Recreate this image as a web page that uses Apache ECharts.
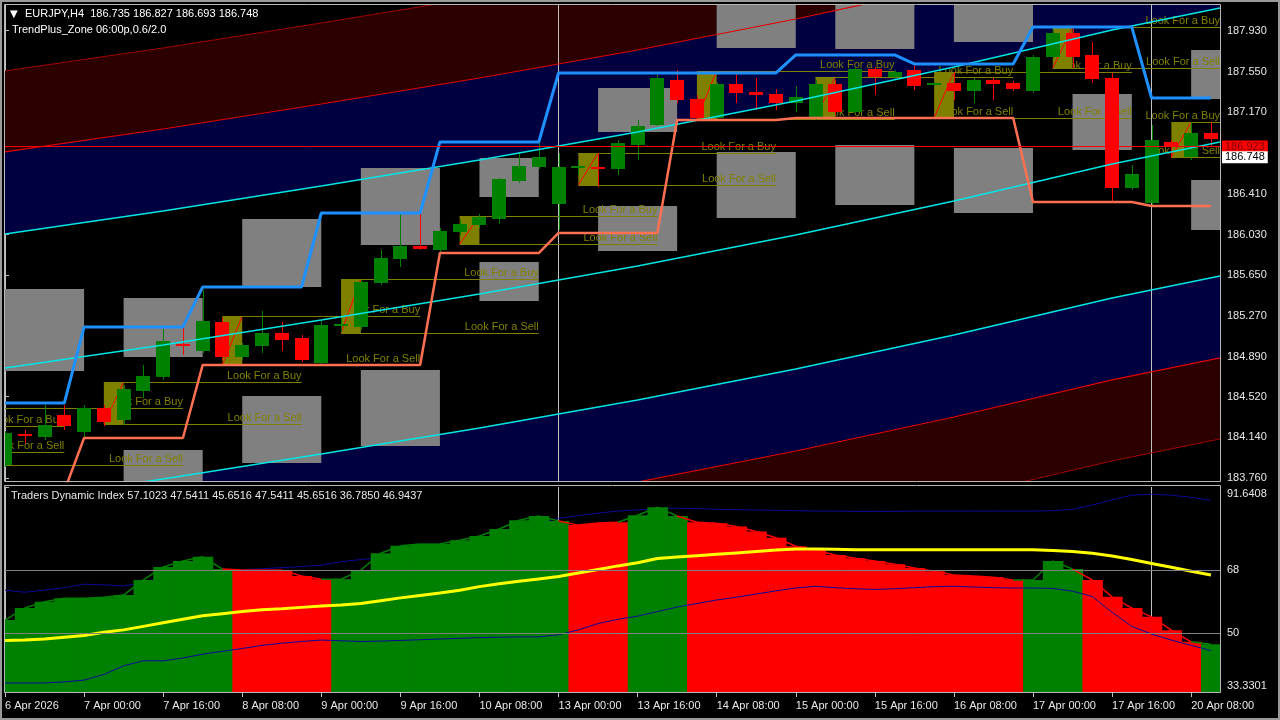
<!DOCTYPE html>
<html>
<head>
<meta charset="utf-8">
<title>EURJPY H4</title>
<script src="https://cdn.jsdelivr.net/npm/echarts@6.0.0/dist/echarts.min.js"></script>
<style>
html,body{margin:0;padding:0;background:#000;overflow:hidden}
#chart{width:1280px;height:720px}
</style>
</head>
<body>
<div id="chart"></div>
<script>
// ---------------- data ----------------
const timeLabels = ['6 Apr 2026','7 Apr 00:00','7 Apr 16:00','8 Apr 08:00','9 Apr 00:00','9 Apr 16:00','10 Apr 08:00','13 Apr 00:00','13 Apr 16:00','14 Apr 08:00','15 Apr 00:00','15 Apr 16:00','16 Apr 08:00','17 Apr 00:00','17 Apr 16:00','20 Apr 08:00'];
const timeLabelBars = [0,4,8,12,16,20,24,28,32,36,40,44,48,52,56,60];
const separatorBars = [28,58];
const priceTicks = [187.930,187.550,187.170,186.410,186.030,185.650,185.270,184.890,184.520,184.140,183.760];
const tdiTicks = [91.6408,68,50,33.3301];
const tdiTickLabels = ['91.6408','68','50','33.3301'];
const tdiLevels = [68,50];

const candleOpen  = [183.882,184.167,184.143,184.349,184.190,184.414,184.302,184.572,184.703,185.005,184.945,185.215,184.889,184.991,185.113,185.066,184.833,185.178,185.169,185.579,185.802,185.924,185.886,186.054,186.119,186.175,186.529,186.660,186.315,186.655,186.655,186.641,186.865,187.051,187.471,187.294,187.116,187.433,187.359,187.340,187.256,187.116,187.433,187.172,187.573,187.499,187.564,187.429,187.443,187.368,187.471,187.443,187.368,187.685,187.909,187.704,187.489,186.464,186.324,186.893,186.753,186.977];
const candleClose = [184.181,184.157,184.255,184.246,184.414,184.283,184.591,184.712,185.038,184.996,185.225,184.889,185.001,185.113,185.047,184.861,185.187,185.197,185.588,185.812,185.924,185.896,186.063,186.129,186.194,186.548,186.669,186.753,186.660,186.664,186.646,186.883,187.042,187.489,187.284,187.116,187.433,187.349,187.331,187.256,187.312,187.433,187.172,187.573,187.499,187.545,187.415,187.438,187.368,187.471,187.433,187.387,187.685,187.909,187.685,187.480,186.464,186.595,186.911,186.846,186.977,186.921];
const candleLow   = [183.864,184.087,184.115,184.209,184.143,184.246,184.255,184.507,184.675,184.908,184.926,184.861,184.861,184.926,184.945,184.842,184.815,185.122,185.141,185.560,185.728,185.886,185.868,186.026,186.091,186.129,186.511,186.641,186.073,186.585,186.473,186.585,186.725,187.042,187.256,187.098,187.098,187.256,187.191,187.191,187.172,187.098,187.144,187.163,187.331,187.471,187.377,187.415,187.284,187.256,187.284,187.368,187.349,187.676,187.582,187.443,186.324,186.445,186.306,186.744,186.725,186.846];
const candleHigh  = [184.199,184.209,184.442,184.442,184.442,184.442,184.628,184.815,185.150,185.159,185.513,185.253,185.019,185.318,185.215,185.094,185.234,185.253,185.607,185.886,186.222,186.222,186.091,186.166,186.222,186.557,186.790,186.883,186.790,186.725,186.790,186.911,187.098,187.517,187.564,187.331,187.452,187.536,187.489,187.387,187.415,187.471,187.471,187.592,187.592,187.564,187.610,187.452,187.545,187.489,187.489,187.461,187.704,187.937,187.946,187.825,187.536,186.678,187.051,186.911,187.079,187.079];

const stepUpper = [184.460,184.460,184.460,184.460,185.169,185.169,185.169,185.169,185.169,185.169,185.541,185.541,185.541,185.541,185.541,185.541,186.231,186.231,186.231,186.231,186.231,186.231,186.893,186.893,186.893,186.893,186.893,186.893,187.536,187.536,187.536,187.536,187.536,187.536,187.536,187.536,187.536,187.536,187.536,187.536,187.704,187.704,187.704,187.704,187.704,187.704,187.620,187.620,187.620,187.620,187.620,187.620,187.964,187.964,187.964,187.964,187.964,187.964,187.303,187.303,187.303,187.303];
const stepLower = [183.640,183.640,183.640,183.640,184.134,184.134,184.134,184.134,184.134,184.134,184.815,184.815,184.815,184.815,184.815,184.815,184.815,184.815,184.815,184.815,184.815,184.815,185.858,185.858,185.858,185.858,185.858,185.858,186.045,186.045,186.045,186.045,186.045,186.045,187.098,187.098,187.098,187.098,187.098,187.098,187.116,187.116,187.116,187.116,187.116,187.116,187.116,187.116,187.116,187.116,187.116,187.116,186.334,186.334,186.334,186.334,186.334,186.334,186.296,186.296,186.296,186.296];

const chanBars    = [0,8,16,24,32,40,48,56,61.46];
const chanOuterUp = [187.555,187.769,188.002,188.244,188.505,188.794,189.111,189.456,189.661];
const chanInnerUp = [186.800,187.014,187.247,187.489,187.750,188.039,188.356,188.701,188.906];
const chanCyanUp  = [186.035,186.250,186.483,186.725,186.986,187.275,187.592,187.937,188.142];
const chanMid     = [184.787,185.001,185.234,185.476,185.737,186.026,186.343,186.688,186.893];
const chanCyanDn  = [183.538,183.752,183.985,184.227,184.488,184.777,185.094,185.439,185.644];
const chanInnerDn = [182.774,182.988,183.221,183.463,183.724,184.013,184.330,184.675,184.880];
const chanOuterDn = [182.019,182.233,182.466,182.708,182.969,183.258,183.575,183.920,184.125];

// gray zone boxes: start bar, end bar, top price, bottom price
const zoneBoxStart = [0,6,6,12,12,18,18,24,24,30,30,36,36,42,42,48,48,54,60,60];
const zoneBoxEnd   = [4,10,10,16,16,22,22,27,27,34,34,40,40,46,46,52,52,57,64,64];
const zoneBoxTop   = [185.523,185.439,184.022,186.175,184.526,186.650,184.768,186.744,185.774,187.396,186.296,188.400,186.800,188.400,186.865,188.400,186.837,187.340,187.750,186.539];
const zoneBoxBot   = [184.759,184.889,183.556,185.541,183.901,185.933,184.060,186.380,185.411,186.986,185.877,187.769,186.185,187.760,186.306,187.825,186.231,186.818,187.294,186.073];

// signal zones: start bar, buy level, sell level
const zoneStart = [-7,-1,5,11,17,23,29,35,41,47,53,59];
const zoneBuy   = [184.246,184.414,184.656,185.271,185.616,186.203,186.790,187.555,187.499,187.545,187.964,187.079];
const zoneSell  = [184.004,183.882,184.265,184.815,185.113,185.942,186.492,187.107,187.116,187.116,187.582,186.753];

const currentLineValue = 186.850;
const currentLineText = '186.923';
const bidValue = 186.753;
const bidText = '186.748';

// Traders Dynamic Index
const tdiRsi = [53.8,57.2,59.0,60.0,60.0,60.3,60.9,65.2,68.9,70.6,71.8,68.3,68.0,68.0,68.0,66.3,65.4,65.4,68.0,72.8,74.9,75.4,75.4,76.5,77.7,79.7,82.2,83.4,82.0,80.8,81.4,81.6,83.6,85.9,83.4,81.6,81.3,80.4,79.0,77.2,74.8,73.7,72.3,71.4,70.6,69.7,68.6,67.7,66.6,66.3,66.0,65.2,65.2,70.6,68.3,65.2,60.4,57.2,54.7,50.9,47.6,46.9];
const tdiColorKeys = ('GGGGGGGGGGGG' + 'RRRRR' + 'GGGGGGGGGGGG' + 'RRR' + 'GGG' + 'RRRRRRRRRRRRRRRRR' + 'GGG' + 'RRRRRR' + 'G').split('');
const tdiSignal = [48.0,48.1,48.4,48.9,49.4,50.3,51.0,52.0,53.0,54.0,55.0,55.6,56.2,56.7,57.0,57.4,57.8,58.1,58.5,59.3,60.1,60.8,61.5,62.3,63.3,64.1,64.8,65.5,66.2,67.2,68.2,69.2,70.1,71.3,71.7,72.1,72.5,72.9,73.3,73.7,74.0,74.0,73.9,73.8,73.8,73.8,73.8,73.8,73.8,73.8,73.8,73.8,73.8,73.6,73.3,72.8,72.0,71.0,69.9,68.8,67.7,66.6];
const tdiUpper = [62.3,61.7,62.3,63.0,64.0,63.8,63.5,64.5,66.0,67.0,67.5,68.0,68.1,68.4,68.7,69.0,69.4,70.4,71.0,71.5,72.5,73.5,74.5,75.5,76.5,78.0,79.5,81.5,82.7,83.5,84.2,84.8,85.1,85.5,85.6,85.5,85.3,85.2,85.1,85.0,84.9,84.8,84.8,84.7,84.7,84.7,84.8,84.8,84.8,84.8,84.8,84.8,84.8,84.9,85.3,86.5,88.0,89.3,89.6,89.3,88.7,87.8];
const tdiLower = [35.9,35.9,35.9,36.2,36.7,38.3,40.8,42.2,42.2,43.0,44.1,44.9,45.7,46.6,47.2,47.7,48.1,47.9,47.7,47.8,48.0,48.2,48.4,48.6,48.8,48.9,49.0,49.0,49.6,51.0,52.8,54.0,54.9,56.2,57.5,58.5,59.5,60.3,61.2,62.1,62.9,63.4,63.0,62.7,62.5,62.7,63.0,63.3,63.4,63.2,63.0,62.9,62.9,62.8,62.0,60.5,56.0,52.0,49.8,48.1,46.6,45.1];

const headerSymbol = 'EURJPY,H4  186.735 186.827 186.693 186.748';
const headerIndicator = 'TrendPlus_Zone 06:00p,0.6/2.0';
const tdiTitle = 'Traders Dynamic Index 57.1023 47.5411 45.6516 47.5411 45.6516 36.7850 46.9437';

// ---------------- chart ----------------
const FONT = '"Liberation Sans", Arial, sans-serif';
const X_MAX = 61.46;
const P_MIN = 183.7333, P_MAX = 188.1695;
const TDI_MIN = 33.3301, TDI_MAX = 91.6408;
const GREEN = '#008000', RED = '#ff0000', OLIVE = '#808000';

const chart = echarts.init(document.getElementById('chart'), null, {renderer: 'canvas'});
const idx = candleOpen.map((_, i) => i);

function rectFrom(p1, p2) {
  return {x: Math.min(p1[0], p2[0]), y: Math.min(p1[1], p2[1]), width: Math.abs(p2[0] - p1[0]), height: Math.abs(p2[1] - p1[1])};
}

const bandPairs = [
  [chanOuterUp, chanInnerUp, '#2d0000'],
  [chanInnerUp, chanCyanUp, '#000040'],
  [chanCyanDn, chanInnerDn, '#000040'],
  [chanInnerDn, chanOuterDn, '#2d0000']
];

function renderBand(params, api) {
  const pair = bandPairs[params.dataIndex];
  const pts = [];
  chanBars.forEach((b, k) => pts.push(api.coord([b, pair[0][k]])));
  for (let k = chanBars.length - 1; k >= 0; k--) pts.push(api.coord([chanBars[k], pair[1][k]]));
  return {type: 'polygon', shape: {points: pts}, style: {fill: pair[2]}};
}

function renderGrayBox(params, api) {
  const p1 = api.coord([api.value(0), api.value(2)]);
  const p2 = api.coord([api.value(1), api.value(3)]);
  return {type: 'rect', shape: rectFrom(p1, p2), style: {fill: '#808080'}};
}

function renderSignalBox(params, api) {
  const s = api.value(0), buy = api.value(1), sell = api.value(2);
  const p1 = api.coord([s, buy]);
  const p2 = api.coord([s + 1, sell]);
  return {type: 'group', children: [
    {type: 'rect', shape: rectFrom(p1, p2), style: {fill: OLIVE}},
    {type: 'line', shape: {x1: p1[0], y1: p2[1], x2: p2[0], y2: p1[1]}, style: {stroke: RED, lineWidth: 1}}
  ]};
}

function renderLookLines(params, api) {
  const s = api.value(0), buy = api.value(1), sell = api.value(2);
  const e = Math.min(s + 10, X_MAX);
  const children = [];
  [[buy, 'Look For a Buy'], [sell, 'Look For a Sell']].forEach(([lv, txt]) => {
    const a = api.coord([s, lv]), b = api.coord([e, lv]);
    const y = Math.round(a[1]) + 0.5;
    children.push({type: 'line', shape: {x1: a[0], y1: y, x2: b[0], y2: y}, style: {stroke: OLIVE, lineWidth: 1}});
    children.push({type: 'text', x: b[0], y: y - 1, style: {text: txt, fill: OLIVE, font: '11px ' + FONT, textAlign: 'right', textVerticalAlign: 'bottom'}});
  });
  return {type: 'group', children};
}

function renderCandle(params, api) {
  const i = api.value(0), o = api.value(1), c = api.value(2), l = api.value(3), h = api.value(4);
  const col = c >= o ? GREEN : RED;
  const pO = api.coord([i, o]), pC = api.coord([i, c]);
  const pH = api.coord([i, h]), pL = api.coord([i, l]);
  const bw = Math.round(api.size([1, 0])[0] * 0.7);
  const cx = Math.round(pO[0]);
  let top = Math.min(pO[1], pC[1]), bot = Math.max(pO[1], pC[1]);
  if (bot - top < 2) { const m = (top + bot) / 2; top = m - 1; bot = m + 1; }
  return {type: 'group', children: [
    {type: 'line', shape: {x1: cx + 0.5, y1: pH[1], x2: cx + 0.5, y2: pL[1]}, style: {stroke: col, lineWidth: 1}},
    {type: 'rect', shape: {x: cx - Math.floor(bw / 2), y: top, width: bw, height: bot - top}, style: {fill: col}}
  ]};
}

function renderTdi(params, api) {
  const i = api.value(0), v = api.value(1);
  const col = tdiColorKeys[i] === 'G' ? GREEN : RED;
  const pTL = api.coord([i - 0.5, v]);
  const pBR = api.coord([i + 0.5, TDI_MIN]);
  const children = [{type: 'rect', shape: {x: pTL[0], y: pTL[1], width: pBR[0] - pTL[0] + 0.7, height: pBR[1] - pTL[1]}, style: {fill: col}}];
  if (i > 0) {
    const pp = api.coord([i - 1, tdiRsi[i - 1]]), pc = api.coord([i, v]);
    children.push({type: 'line', shape: {x1: pp[0], y1: pp[1], x2: pc[0], y2: pc[1]}, style: {stroke: col, lineWidth: 1.5}});
  }
  return {type: 'group', children};
}

function chanLine(arr, color, width) {
  return {type: 'line', xAxisIndex: 0, yAxisIndex: 0, data: chanBars.map((b, k) => [b, arr[k]]), symbol: 'none', lineStyle: {color, width}, z: 7, silent: true, clip: true};
}

const axisText = {color: '#e8e8e8', fontSize: 11, fontFamily: FONT};

const option = {
  backgroundColor: '#000000',
  animation: false,
  grid: [
    {left: 5, top: 5, width: 1215, height: 476},
    {left: 5, top: 487, width: 1215, height: 205}
  ],
  xAxis: [
    {type: 'value', gridIndex: 0, min: 0, max: X_MAX, axisLine: {show: false}, axisTick: {show: false}, axisLabel: {show: false}, splitLine: {show: false}},
    {type: 'value', gridIndex: 1, min: 0, max: X_MAX, position: 'bottom',
      axisLine: {show: true, onZero: false, lineStyle: {color: '#c0c0c0'}},
      axisTick: {show: true, customValues: timeLabelBars, length: 5, lineStyle: {color: '#c0c0c0'}},
      axisLabel: Object.assign({show: true, customValues: timeLabelBars, align: 'left', margin: 8, showMinLabel: true, showMaxLabel: true,
        formatter: v => timeLabels[timeLabelBars.indexOf(Math.round(v))] || ''}, axisText),
      splitLine: {show: false}}
  ],
  yAxis: [
    {type: 'value', gridIndex: 0, position: 'right', min: P_MIN, max: P_MAX,
      axisLine: {show: true, lineStyle: {color: '#c0c0c0'}},
      axisTick: {show: true, customValues: priceTicks, length: 4, lineStyle: {color: '#c0c0c0'}},
      axisLabel: Object.assign({show: true, customValues: priceTicks, margin: 7, formatter: v => v.toFixed(3)}, axisText),
      splitLine: {show: false}},
    {type: 'value', gridIndex: 1, position: 'right', min: TDI_MIN, max: TDI_MAX,
      axisLine: {show: true, lineStyle: {color: '#c0c0c0'}},
      axisTick: {show: true, customValues: tdiTicks, length: 4, lineStyle: {color: '#c0c0c0'}},
      axisLabel: Object.assign({show: true, customValues: tdiTicks, margin: 7, showMinLabel: true, showMaxLabel: true,
        formatter: v => {
          const k = tdiTicks.findIndex(t => Math.abs(t - v) < 1e-6);
          const s = k >= 0 ? tdiTickLabels[k] : String(v);
          if (k === 0) return '{mx|' + s + '}';
          if (k === tdiTicks.length - 1) return '{mn|' + s + '}';
          return s;
        },
        rich: {
          mx: Object.assign({padding: [14, 0, 0, 0]}, axisText),
          mn: Object.assign({padding: [0, 0, 12, 0]}, axisText)
        }}, axisText),
      splitLine: {show: false}}
  ],
  series: [
    {type: 'custom', name: 'bands', xAxisIndex: 0, yAxisIndex: 0, clip: true, silent: true, z: 1,
      renderItem: renderBand, data: bandPairs.map((_, k) => [k, 186])},
    {type: 'line', xAxisIndex: 0, yAxisIndex: 0, data: [[0, null]], symbol: 'none', silent: true, z: 2,
      markLine: {z: 2, silent: true, symbol: ['none', 'none'], animation: false, label: {show: false},
        lineStyle: {color: '#c0c0c0', width: 1, type: 'solid'},
        data: separatorBars.map(b => ({xAxis: b}))}},
    {type: 'custom', name: 'zones', xAxisIndex: 0, yAxisIndex: 0, clip: true, silent: true, z: 3,
      renderItem: renderGrayBox, encode: {x: [0, 1], y: [2, 3]},
      data: zoneBoxStart.map((s, k) => [s, zoneBoxEnd[k], zoneBoxTop[k], zoneBoxBot[k]])},
    {type: 'custom', name: 'signal', xAxisIndex: 0, yAxisIndex: 0, clip: true, silent: true, z: 4,
      renderItem: renderSignalBox, encode: {x: 0, y: [1, 2]},
      data: zoneStart.map((s, k) => [s, zoneBuy[k], zoneSell[k]])},
    {type: 'custom', name: 'look', xAxisIndex: 0, yAxisIndex: 0, clip: true, silent: true, z: 5,
      renderItem: renderLookLines, encode: {x: 0, y: [1, 2]},
      data: zoneStart.map((s, k) => [s, zoneBuy[k], zoneSell[k]])},
    {type: 'custom', name: 'EURJPY', xAxisIndex: 0, yAxisIndex: 0, clip: true, silent: true, z: 6,
      renderItem: renderCandle, encode: {x: 0, y: [1, 2, 3, 4]},
      data: idx.map(i => [i, candleOpen[i], candleClose[i], candleLow[i], candleHigh[i]])},
    chanLine(chanOuterUp, '#a00000', 1),
    chanLine(chanInnerUp, '#e00000', 1.2),
    chanLine(chanCyanUp, '#00e5e5', 1.5),
    chanLine(chanMid, '#00e5e5', 1.5),
    chanLine(chanCyanDn, '#00e5e5', 1.5),
    chanLine(chanInnerDn, '#e00000', 1.2),
    chanLine(chanOuterDn, '#a00000', 1),
    {type: 'line', xAxisIndex: 0, yAxisIndex: 0, data: idx.map(i => [i, stepUpper[i]]), symbol: 'none', silent: true, z: 8,
      lineStyle: {color: '#1e90ff', width: 3}},
    {type: 'line', xAxisIndex: 0, yAxisIndex: 0, data: idx.map(i => [i, stepLower[i]]), symbol: 'none', silent: true, z: 8,
      lineStyle: {color: '#ff7050', width: 2.5}},
    {type: 'line', xAxisIndex: 0, yAxisIndex: 0, data: [[0, null]], symbol: 'none', silent: true, z: 9,
      markLine: {z: 9, silent: true, symbol: ['none', 'none'], animation: false,
        data: [
          {yAxis: currentLineValue, lineStyle: {color: RED, width: 1, type: 'solid'},
            label: {show: true, position: 'end', distance: 2, formatter: currentLineText, color: '#7a0000', backgroundColor: RED, padding: [1, 3, 0, 3], fontSize: 11, fontFamily: FONT}},
          {yAxis: bidValue, lineStyle: {color: 'rgba(0,0,0,0)', width: 1, type: 'solid'},
            label: {show: true, position: 'end', distance: 2, formatter: bidText, color: '#000000', backgroundColor: '#ffffff', padding: [1, 3, 0, 3], fontSize: 11, fontFamily: FONT, opacity: 1}}
        ]}},
    {type: 'line', xAxisIndex: 1, yAxisIndex: 1, data: [[0, null]], symbol: 'none', silent: true, z: 1,
      markLine: {z: 1, silent: true, symbol: ['none', 'none'], animation: false, label: {show: false},
        lineStyle: {color: '#c0c0c0', width: 1, type: 'solid'},
        data: separatorBars.map(b => ({xAxis: b}))}},
    {type: 'line', xAxisIndex: 1, yAxisIndex: 1, data: idx.map(i => [i, tdiUpper[i]]), symbol: 'none', silent: true, z: 2,
      lineStyle: {color: '#0a0a9a', width: 1}},
    {type: 'custom', name: 'TDI', xAxisIndex: 1, yAxisIndex: 1, clip: true, silent: true, z: 3,
      renderItem: renderTdi, encode: {x: 0, y: 1}, data: idx.map(i => [i, tdiRsi[i]])},
    {type: 'line', xAxisIndex: 1, yAxisIndex: 1, data: idx.map(i => [i, tdiLower[i]]), symbol: 'none', silent: true, z: 4,
      lineStyle: {color: '#0a0a9a', width: 1}},
    {type: 'line', xAxisIndex: 1, yAxisIndex: 1, data: idx.map(i => [i, tdiSignal[i]]), symbol: 'none', silent: true, z: 5,
      lineStyle: {color: '#ffff00', width: 3},
      markLine: {z: 6, silent: true, symbol: ['none', 'none'], animation: false, label: {show: false},
        lineStyle: {color: '#808080', width: 1, type: 'solid'},
        data: tdiLevels.map(v => ({yAxis: v}))}}
  ],
  graphic: [
    {type: 'rect', z: 100, silent: true, shape: {x: 1, y: 1, width: 1278, height: 718}, style: {fill: 'none', stroke: '#9a9a9a', lineWidth: 2}},
    {type: 'rect', z: 100, silent: true, shape: {x: 4.5, y: 4.5, width: 1216, height: 477}, style: {fill: 'none', stroke: '#b8b8b8', lineWidth: 1}},
    {type: 'rect', z: 100, silent: true, shape: {x: 4.5, y: 485.5, width: 1216, height: 207}, style: {fill: 'none', stroke: '#b8b8b8', lineWidth: 1}},
    {type: 'text', z: 101, silent: true, x: 10, y: 14, style: {text: '▼', fill: '#ffffff', font: '10px "DejaVu Sans", sans-serif', textVerticalAlign: 'middle'}},
    {type: 'text', z: 101, silent: true, x: 25, y: 14, style: {text: headerSymbol, fill: '#ffffff', font: '11px ' + FONT, textVerticalAlign: 'middle'}},
    {type: 'text', z: 101, silent: true, x: 12, y: 30, style: {text: headerIndicator, fill: '#ffffff', font: '11px ' + FONT, textVerticalAlign: 'middle'}},
    {type: 'text', z: 101, silent: true, x: 11, y: 496, style: {text: tdiTitle, fill: '#e8e8e8', font: '11px ' + FONT, textVerticalAlign: 'middle'}}
  ]
};

chart.setOption(option);
</script>
</body>
</html>
